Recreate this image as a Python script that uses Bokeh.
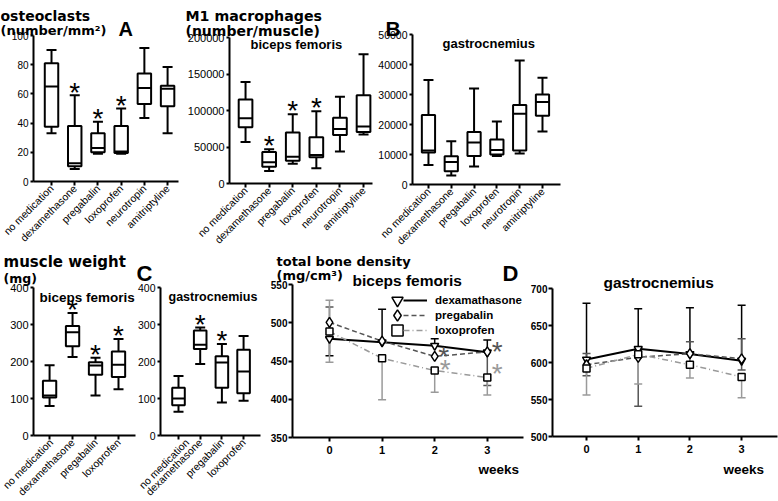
import math
from bokeh.plotting import figure
from bokeh.models import (ColumnDataSource, Range1d, FixedTicker, Whisker, TeeHead,
                          Label, Legend, LegendItem, BasicTickFormatter, LinearAxis)
from bokeh.layouts import row, column
from bokeh.core.properties import value
from bokeh.embed import file_html
from bokeh.resources import INLINE

SANS = "Liberation Sans"
HEAD = "DejaVu Sans"

# ---------------- data ----------------
groups6 = ["no medication", "dexamethasone", "pregabalin", "loxoprofen", "neurotropin", "amitriptyline"]
groups4 = ["no medication", "dexamethasone", "pregabalin", "loxoprofen"]

# A: osteoclasts (number/mm2)
oc_min = [33, 8.5, 19, 19, 43.5, 33]
oc_q1 = [37.5, 10.5, 20, 19.5, 53, 51.5]
oc_med = [65, 12.5, 23, 20.5, 64, 63.5]
oc_q3 = [81, 38, 33, 38, 74, 65.5]
oc_max = [90, 59, 41, 50, 91.5, 78.5]
oc_sig = [0, 1, 1, 1, 0, 0]
oc_ticks = [0, 20, 40, 60, 80, 100]

# M1 macrophages, biceps femoris
m1b_min = [57000, 17000, 27000, 21000, 44000, 67000]
m1b_q1 = [77000, 23000, 31000, 36000, 66500, 70500]
m1b_med = [89500, 29000, 36500, 39000, 74500, 78000]
m1b_q3 = [115000, 43000, 70000, 63500, 90000, 121000]
m1b_max = [139000, 47000, 95000, 99000, 119000, 177000]
m1b_sig = [0, 1, 1, 1, 0, 0]
m1b_ticks = [0, 50000, 100000, 150000, 200000]

# B: M1 macrophages, gastrocnemius
m1g_min = [6500, 3000, 6000, 9500, 10300, 17700]
m1g_q1 = [10700, 4400, 9500, 10000, 11300, 22900]
m1g_med = [11300, 7500, 14000, 11500, 23600, 27500]
m1g_q3 = [23200, 9400, 17500, 15000, 26500, 30000]
m1g_max = [34800, 14400, 32000, 21000, 41300, 35600]
m1g_sig = [0, 0, 0, 0, 0, 0]
m1g_ticks = [0, 10000, 20000, 30000, 40000, 50000]

# muscle weight (mg), biceps femoris
mwb_min = [80, 212, 108, 125]
mwb_q1 = [103, 241, 164, 158]
mwb_med = [108, 279, 189, 191]
mwb_q3 = [148, 296, 198, 227]
mwb_max = [190, 331, 210, 261]
mwb_sig = [0, 1, 1, 1]

# C: muscle weight, gastrocnemius
mwg_min = [64, 193, 89, 94]
mwg_q1 = [82, 234, 129, 114]
mwg_med = [100, 245, 197, 173]
mwg_q3 = [129, 284, 214, 232]
mwg_max = [161, 292, 247, 269]
mwg_sig = [0, 1, 1, 0]
mw_ticks = [0, 100, 200, 300, 400]

# D: total bone density (mg/cm3)
weeks = [0, 1, 2, 3]
series_names = ["dexamathasone", "pregabalin", "loxoprofen"]

bdb_dex = [479, 474.5, 470, 461.5]
bdb_dex_up = [0, 43, 9, 16]
bdb_dex_dn = [22, 0, 0, 0]
bdb_preg = [500.5, 476, 456, 462]
bdb_preg_up = [20, 0, 0, 0]
bdb_preg_dn = [20, 0, 0, 44]
bdb_lox = [488.5, 453.5, 437.5, 428.5]
bdb_lox_up = [41, 0, 0, 0]
bdb_lox_dn = [40, 54, 28.5, 23]
bdb_ast_dark_x = [2.17, 3.19]
bdb_ast_dark_y = [459, 466]
bdb_ast_light_x = [2.2, 3.19]
bdb_ast_light_y = [442, 437.5]
bdb_ticks = [350, 400, 450, 500, 550]

bdg_dex = [604, 618.5, 611.5, 602.5]
bdg_dex_up = [76, 54, 62.5, 75]
bdg_dex_dn = [0, 0, 0, 0]
bdg_preg = [597, 607, 612, 605]
bdg_preg_up = [15, 14, 16, 27]
bdg_preg_dn = [15, 66, 16, 15]
bdg_lox = [592, 611, 597, 580.5]
bdg_lox_up = [0, 0, 0, 0]
bdg_lox_dn = [36, 40, 18, 28]
bdg_ticks = [500, 550, 600, 650, 700]


# ---------------- helpers ----------------
def base_fig(box, frame, xr, yr):
    """Canvas = frame; axes are fixed at the data-area edges and bounded."""
    X0, X1, Y0, Y1 = box
    L, R, T, B = frame
    kx = (xr[1] - xr[0]) / (R - L)
    ky = (yr[1] - yr[0]) / (B - T)
    x_range = Range1d(xr[0] - (L - X0) * kx, xr[1] + (X1 - R) * kx)
    y_range = Range1d(yr[0] - (Y1 - B) * ky, yr[1] + (T - Y0) * ky)
    p = figure(width=X1 - X0, height=Y1 - Y0, x_range=x_range, y_range=y_range,
               toolbar_location=None, output_backend="svg",
               x_axis_location=None, y_axis_location=None,
               min_border_left=0, min_border_right=0, min_border_top=0, min_border_bottom=0)
    p.xgrid.visible = False
    p.ygrid.visible = False
    p.outline_line_color = None
    p.background_fill_color = "white"
    p.border_fill_color = "white"
    xa = LinearAxis(fixed_location=yr[0], bounds=(xr[0], xr[1]))
    ya = LinearAxis(fixed_location=xr[0], bounds=(yr[0], yr[1]))
    for ax in (xa, ya):
        ax.axis_line_width = 2
        ax.axis_line_color = "black"
        ax.major_tick_line_width = 2
        ax.major_tick_line_color = "black"
        ax.major_tick_in = 0
        ax.major_tick_out = 3
        ax.minor_tick_line_color = None
        ax.major_label_standoff = 2
        ax.major_label_text_color = "black"
        ax.major_label_text_font = SANS
    p.add_layout(xa, "below")
    p.add_layout(ya, "left")
    return p, xa, ya


def lab(p, box, text, rx, rbase, size, font=SANS, bold=True, color="black"):
    X0, X1, Y0, Y1 = box
    p.add_layout(Label(x=rx - X0, y=Y1 - rbase, x_units="screen", y_units="screen",
                       text=text, text_font=font, text_font_size=f"{size}px",
                       text_font_style="bold" if bold else "normal",
                       text_color=color, text_align="left", text_baseline="alphabetic"))


BOXW = 0.58
AST_FS = 28
AST_CENTER = 0.24 * AST_FS   # height of the asterisk's ink centre above its baseline (px)


def box_panel(box, frame, xr, cats, mn, q1, md, q3, mx, sig, yticks, ytick_fs):
    n = len(cats)
    xs = list(range(1, n + 1))
    p, xa, ya = base_fig(box, frame, xr, (yticks[0], yticks[-1]))
    src = ColumnDataSource(dict(x=xs, mn=mn, q1=q1, md=md, q3=q3, mx=mx,
                                x0=[x - BOXW / 2 for x in xs], x1=[x + BOXW / 2 for x in xs]))
    p.add_layout(Whisker(source=src, base="x", lower="q3", upper="mx", dimension="height",
                         line_color="black", line_width=2,
                         upper_head=TeeHead(size=10, line_width=2, line_color="black"),
                         lower_head=None))
    p.add_layout(Whisker(source=src, base="x", lower="mn", upper="q1", dimension="height",
                         line_color="black", line_width=2,
                         lower_head=TeeHead(size=10, line_width=2, line_color="black"),
                         upper_head=None))
    p.vbar(x="x", width=BOXW, bottom="q1", top="q3", source=src,
           fill_color="white", line_color="black", line_width=2)
    p.segment(x0="x0", y0="md", x1="x1", y1="md", source=src, line_color="black", line_width=2)
    sx = [x for x, s in zip(xs, sig) if s]
    sy = [m for m, s in zip(mx, sig) if s]
    if sx:
        p.text(x=sx, y=sy, text=["*"] * len(sx), text_font=value(SANS),
               text_font_size=f"{AST_FS}px", text_align="center", text_baseline="alphabetic",
               text_color="black", y_offset=AST_CENTER - 10)
    xa.ticker = FixedTicker(ticks=xs)
    xa.major_label_overrides = {x: c for x, c in zip(xs, cats)}
    xa.major_label_orientation = math.pi / 4
    xa.major_label_text_font_size = "10.5px"
    xa.major_label_standoff = 1
    xa.major_tick_out = 4
    ya.ticker = FixedTicker(ticks=yticks)
    ya.formatter = BasicTickFormatter(use_scientific=False)
    ya.major_label_text_font_size = f"{ytick_fs}px"
    return p


def err_whiskers(p, xs, mean, up, dn, color, width):
    ux = [x for x, e in zip(xs, up) if e > 0]
    um = [m for m, e in zip(mean, up) if e > 0]
    ut = [m + e for m, e in zip(mean, up) if e > 0]
    if ux:
        s = ColumnDataSource(dict(x=ux, lo=um, hi=ut))
        p.add_layout(Whisker(source=s, base="x", lower="lo", upper="hi", dimension="height",
                             line_color=color, line_width=width, lower_head=None,
                             upper_head=TeeHead(size=8, line_width=width, line_color=color)))
    dx = [x for x, e in zip(xs, dn) if e > 0]
    dm = [m for m, e in zip(mean, dn) if e > 0]
    db = [m - e for m, e in zip(mean, dn) if e > 0]
    if dx:
        s = ColumnDataSource(dict(x=dx, lo=db, hi=dm))
        p.add_layout(Whisker(source=s, base="x", lower="lo", upper="hi", dimension="height",
                             line_color=color, line_width=width, upper_head=None,
                             lower_head=TeeHead(size=8, line_width=width, line_color=color)))


STYLES = [  # color, dash, width, marker, size, err color
    ("black", "solid", 2, "inverted_triangle", 8, "black"),
    ("#555555", "5 3", 1.5, "diamond", 10, "#555555"),
    ("#9a9a9a", "6 3 1 3", 1.5, "square", 7, "#9a9a9a"),
]


def line_panel(box, frame, xr, yticks, series):
    p, xa, ya = base_fig(box, frame, xr, (yticks[0], yticks[-1]))
    rends = []
    for (mean, up, dn), st in zip(series, STYLES):
        err_whiskers(p, weeks, mean, up, dn, st[5], 1.5)
    for (mean, up, dn), st in zip(series, STYLES):
        rl = p.line(weeks, mean, line_color=st[0], line_dash=st[1], line_width=st[2])
        rends.append([rl])
    for i, ((mean, up, dn), st) in enumerate(zip(series, STYLES)):
        rs = p.scatter(weeks, mean, marker=st[3], size=st[4], fill_color="white",
                       line_color="black", line_width=1.5)
        rends[i].append(rs)
    xa.ticker = FixedTicker(ticks=weeks)
    xa.major_label_text_font_size = "11px"
    xa.major_label_text_font_style = "bold"
    xa.major_label_standoff = 4
    xa.major_tick_out = 4
    ya.ticker = FixedTicker(ticks=yticks)
    ya.major_label_text_font_size = "10px"
    ya.major_label_text_font_style = "bold"
    ya.major_label_standoff = 1
    ya.major_tick_out = 4
    return p, rends


# ---------------- geometry (fig box X0,X1,Y0,Y1 ; data area L,R,T,B, page px) ----------------
fA, frA = (0, 180, 0, 246), (33, 178, 35, 181)
fM, frM = (180, 374, 0, 246), (229, 372, 37, 183)
fB, frB = (374, 778, 0, 246), (412, 560, 34, 184)
fW, frW = (0, 136, 246, 501), (33, 135, 287, 435)
fC, frC = (136, 265, 246, 501), (160, 260, 287, 435)
fE, frE = (265, 524, 246, 501), (292, 523, 284, 437)
fD, frD = (524, 778, 246, 501), (552, 777, 288, 436)

# ---------------- panels ----------------
pA = box_panel(fA, frA, (0.224, 6.47), groups6, oc_min, oc_q1, oc_med, oc_q3, oc_max, oc_sig, oc_ticks, 10)
lab(pA, fA, "osteoclasts", 0, 15, 14, HEAD)
lab(pA, fA, "(number/mm²)", 0, 29.5, 13, HEAD)
lab(pA, fA, "A", 118, 28, 20)

pM = box_panel(fM, frM, (0.32, 6.38), groups6, m1b_min, m1b_q1, m1b_med, m1b_q3, m1b_max, m1b_sig, m1b_ticks, 11)
lab(pM, fM, "M1 macrophages", 185, 15, 14.2, HEAD)
lab(pM, fM, "(number/muscle)", 185, 30, 14, HEAD)
lab(pM, fM, "biceps  femoris", 250, 44, 13)

pB = box_panel(fB, frB, (0.3, 6.79), groups6, m1g_min, m1g_q1, m1g_med, m1g_q3, m1g_max, m1g_sig, m1g_ticks, 10.5)
lab(pB, fB, "B", 385, 28, 21)
lab(pB, fB, "gastrocnemius", 442, 43, 13)

pW = box_panel(fW, frW, (0.3, 4.74), groups4, mwb_min, mwb_q1, mwb_med, mwb_q3, mwb_max, mwb_sig, mw_ticks, 11)
lab(pW, fW, "muscle weight", 3, 261, 15, HEAD)
lab(pW, fW, "(mg)", 3, 278, 12.5, HEAD)
lab(pW, fW, "biceps femoris", 39, 297, 13.5)

pC = box_panel(fC, frC, (0.17, 4.78), groups4, mwg_min, mwg_q1, mwg_med, mwg_q3, mwg_max, mwg_sig, mw_ticks, 10.5)
lab(pC, fC, "C", 136, 273, 22)
lab(pC, fC, "gastrocnemius", 168, 296, 12.5)

pE, rE = line_panel(fE, frE, (-0.703, 3.688), bdb_ticks,
                    [(bdb_dex, bdb_dex_up, bdb_dex_dn),
                     (bdb_preg, bdb_preg_up, bdb_preg_dn),
                     (bdb_lox, bdb_lox_up, bdb_lox_dn)])
pE.text(x=bdb_ast_dark_x, y=bdb_ast_dark_y, text=["*"] * len(bdb_ast_dark_x), text_font=value(SANS),
        text_font_size=f"{AST_FS}px", text_align="center", text_baseline="alphabetic",
        text_color="#555555", y_offset=AST_CENTER - 4)
pE.text(x=bdb_ast_light_x, y=bdb_ast_light_y, text=["*"] * len(bdb_ast_light_x), text_font=value(SANS),
        text_font_size=f"{AST_FS}px", text_align="center", text_baseline="alphabetic",
        text_color="#9a9a9a", y_offset=AST_CENTER - 4)
lab(pE, fE, "total bone density", 276, 261, 13, HEAD)
lab(pE, fE, "(mg/cm³)", 276, 275, 13, HEAD)
lab(pE, fE, "biceps  femoris", 352, 280, 15.5)
lab(pE, fE, "D", 502, 273, 22)
lab(pE, fE, "weeks", 478, 469, 13.5)

# legend: one small legend per row (marker box and line+label box)
LEG_ROWS = [300, 315, 329.5]   # row centres, page px
X0e, X1e, Y0e, Y1e = fE
for nm, r, yc in zip(series_names, rE, LEG_ROWS):
    lm = Legend(items=[LegendItem(label=" ", renderers=[r[1]])],
                location=(383 - X0e, Y1e - (yc + 14)), glyph_width=28, glyph_height=28,
                label_height=28, spacing=0, padding=0, margin=0, label_standoff=0, label_width=1,
                border_line_color=None, background_fill_alpha=0)
    ll = Legend(items=[LegendItem(label=nm, renderers=[r[0]])],
                location=(403 - X0e, Y1e - (yc + 7)), glyph_width=24, glyph_height=14,
                label_height=14, spacing=0, padding=0, margin=0, label_standoff=8,
                label_text_font=SANS, label_text_font_size="11.5px", label_text_font_style="bold",
                label_text_color="black", border_line_color=None, background_fill_alpha=0)
    pE.add_layout(lm)
    pE.add_layout(ll)

pD, rD = line_panel(fD, frD, (-0.658, 3.694), bdg_ticks,
                    [(bdg_dex, bdg_dex_up, bdg_dex_dn),
                     (bdg_preg, bdg_preg_up, bdg_preg_dn),
                     (bdg_lox, bdg_lox_up, bdg_lox_dn)])
lab(pD, fD, "gastrocnemius", 603, 282, 15.5)
lab(pD, fD, "weeks", 723, 469, 13.5)

layout = column(row(pA, pM, pB), row(pW, pC, pE, pD))
open("out.html", "w").write(file_html(layout, INLINE))
